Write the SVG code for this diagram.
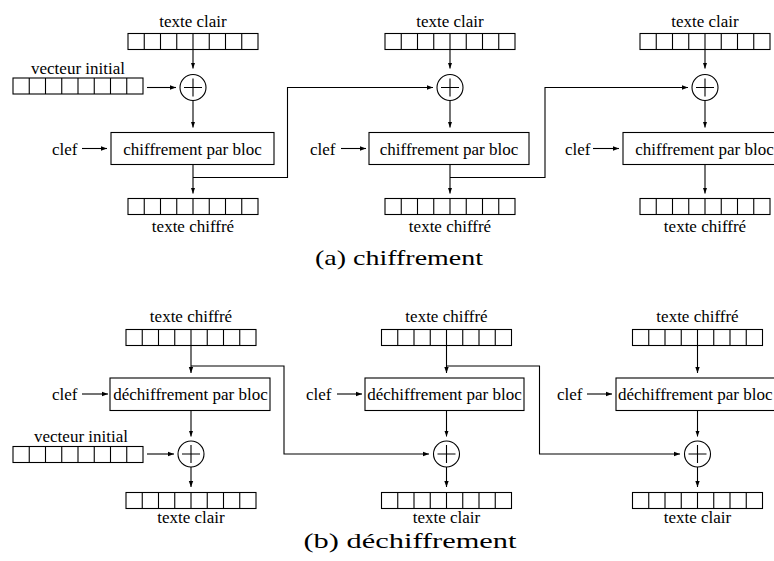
<svg xmlns="http://www.w3.org/2000/svg" width="774" height="561" viewBox="0 0 774 561">
<defs>
<marker id="ah" markerUnits="userSpaceOnUse" markerWidth="8" markerHeight="6" refX="6" refY="3" orient="auto"><path d="M0,0.8 L6,3 L0,5.2 Z" fill="#000"/></marker>
<g id="reg"><rect x="0" y="0" width="130" height="16" fill="#fff" stroke="#000" stroke-width="1.1"/><path d="M16.25,0V16M32.5,0V16M48.75,0V16M65,0V16M81.25,0V16M97.5,0V16M113.75,0V16" stroke="#000" stroke-width="1.1" fill="none"/></g>
<g id="xor"><circle cx="0" cy="0" r="13" fill="#fff" stroke="#000" stroke-width="1.1"/><path d="M-9,0H9M0,-9V9" stroke="#000" stroke-width="1.1"/></g>
</defs>
<style>
text{font-family:"Liberation Serif","Times New Roman",serif;font-size:17px;fill:#000}
.m{text-anchor:middle}
.cap{font-size:22px}
.blk{fill:#fff;stroke:#000;stroke-width:1.1}
.c{fill:none;stroke:#000;stroke-width:1.1}
.a{fill:none;stroke:#000;stroke-width:1.1;marker-end:url(#ah)}
</style>
<rect width="774" height="561" fill="#fff"/>

<g id="connectors">
<!-- top col1 -->
<path class="a" d="M193,50V68.5"/>
<path class="a" d="M147,87.5H176"/>
<path class="a" d="M193,100.5V127.5"/>
<path class="a" d="M82,148.5H107"/>
<path class="a" d="M193,164.5V193.5"/>
<path class="a" d="M193,177.5H287.5V87.5H433"/>
<!-- top col2 -->
<path class="a" d="M450,50V68.5"/>
<path class="a" d="M450,100.5V127.5"/>
<path class="a" d="M341,148.5H366"/>
<path class="a" d="M450,164.5V193.5"/>
<path class="a" d="M450,177.5H545V87.5H688"/>
<!-- top col3 -->
<path class="a" d="M705,50V68.5"/>
<path class="a" d="M705,100.5V127.5"/>
<path class="a" d="M593,148.5H619"/>
<path class="a" d="M705,164.5V193.5"/>
<!-- bottom col1 -->
<path class="a" d="M191,345.5V373"/>
<path class="a" d="M82,394H108"/>
<path class="a" d="M191,410.5V436.5"/>
<path class="a" d="M147,454H174"/>
<path class="a" d="M191,467V487"/>
<path class="a" d="M191,366H284V454H429"/>
<!-- bottom col2 -->
<path class="a" d="M446.5,345.5V373"/>
<path class="a" d="M337,394H362"/>
<path class="a" d="M446.5,410.5V436.5"/>
<path class="a" d="M446.5,467V487"/>
<path class="a" d="M446.5,366H539.5V454H680"/>
<!-- bottom col3 -->
<path class="a" d="M697.5,345.5V373"/>
<path class="a" d="M587,394H612"/>
<path class="a" d="M697.5,410.5V436.5"/>
<path class="a" d="M697.5,467V487"/>
</g>

<g id="enc1">
<text class="m" x="193" y="26.5">texte clair</text>
<use href="#reg" x="128" y="33.5"/>
<text class="m" x="78" y="74">vecteur initial</text>
<use href="#reg" x="13" y="78"/>
<use href="#xor" x="193" y="87.5"/>
<text x="52" y="154.5">clef</text>
<rect class="blk" x="111" y="132.5" width="163" height="32"/>
<text class="m" x="192.5" y="154.5">chiffrement par bloc</text>
<use href="#reg" x="128" y="198.5"/>
<text class="m" x="193" y="231.5">texte chiffré</text>
</g>

<g id="enc2">
<text class="m" x="450" y="26.5">texte clair</text>
<use href="#reg" x="385" y="33.5"/>
<use href="#xor" x="450" y="87.5"/>
<text x="310" y="154.5">clef</text>
<rect class="blk" x="369" y="132.5" width="160" height="32"/>
<text class="m" x="449" y="154.5">chiffrement par bloc</text>
<use href="#reg" x="385" y="198.5"/>
<text class="m" x="450" y="231.5">texte chiffré</text>
</g>

<g id="enc3">
<text class="m" x="705" y="26.5">texte clair</text>
<use href="#reg" x="640" y="33.5"/>
<use href="#xor" x="705" y="87.5"/>
<text x="565" y="154.5">clef</text>
<rect class="blk" x="623" y="132.5" width="163" height="32"/>
<text class="m" x="704.5" y="154.5">chiffrement par bloc</text>
<use href="#reg" x="640" y="198.5"/>
<text class="m" x="705" y="231.5">texte chiffré</text>
</g>

<text id="capA" x="315" y="265" class="cap" textLength="168" lengthAdjust="spacingAndGlyphs">(a) chiffrement</text>

<g id="dec1">
<text class="m" x="191" y="321.5">texte chiffré</text>
<use href="#reg" x="126" y="329.5"/>
<text x="52" y="400">clef</text>
<rect class="blk" x="110" y="378" width="160" height="32.5"/>
<text class="m" x="190.5" y="400">déchiffrement par bloc</text>
<text class="m" x="81" y="442">vecteur initial</text>
<use href="#reg" x="13" y="446.5"/>
<use href="#xor" x="191" y="454"/>
<use href="#reg" x="126" y="492.5"/>
<text class="m" x="191" y="523">texte clair</text>
</g>

<g id="dec2">
<text class="m" x="446.5" y="321.5">texte chiffré</text>
<use href="#reg" x="381.5" y="329.5"/>
<text x="306" y="400">clef</text>
<rect class="blk" x="365" y="378" width="159" height="32.5"/>
<text class="m" x="444.5" y="400">déchiffrement par bloc</text>
<use href="#xor" x="446.5" y="454"/>
<use href="#reg" x="381.5" y="492.5"/>
<text class="m" x="446.5" y="523">texte clair</text>
</g>

<g id="dec3">
<text class="m" x="697.5" y="321.5">texte chiffré</text>
<use href="#reg" x="632.5" y="329.5"/>
<text x="557" y="400">clef</text>
<rect class="blk" x="616" y="378" width="162" height="32.5"/>
<text x="618" y="400">déchiffrement par bloc</text>
<use href="#xor" x="697.5" y="454"/>
<use href="#reg" x="632.5" y="492.5"/>
<text class="m" x="697.5" y="523">texte clair</text>
</g>

<text id="capB" x="303.5" y="547.5" class="cap" textLength="213" lengthAdjust="spacingAndGlyphs">(b) déchiffrement</text>
</svg>
